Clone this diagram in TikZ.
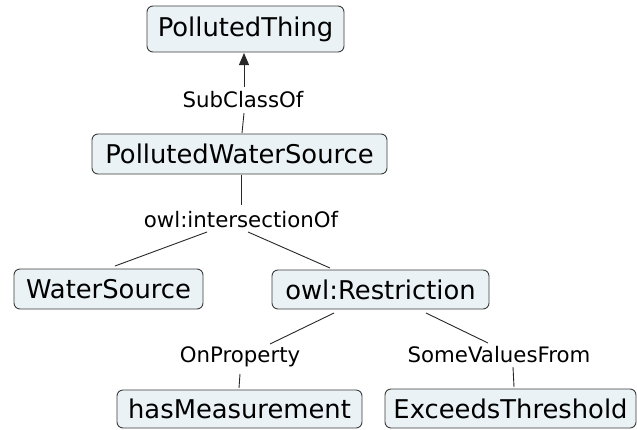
\documentclass[tikz,border=0pt]{standalone}
\usepackage{fontspec}
\setmainfont{DejaVu Sans}
\usetikzlibrary{arrows.meta}
\definecolor{boxfill}{RGB}{234,242,245}
\definecolor{boxline}{RGB}{60,60,60}
\definecolor{linkline}{RGB}{40,40,40}
\tikzset{
  concept/.style={draw=boxline, fill=boxfill, rounded corners=6pt, line width=0.9pt,
    inner sep=0pt, align=center, text=black,
    font=\fontsize{25.8}{30}\selectfont},
  linklabel/.style={inner sep=0pt, text=black, font=\fontsize{21.3}{25}\selectfont},
  link/.style={draw=linkline, line width=0.9pt},
  arrowlink/.style={link, -{Triangle[width=10pt,length=12pt]}}
}
\begin{document}
\begin{tikzpicture}[x=1pt,y=-1pt]
  \fill[white] (0,0) rectangle (637,429);
  \useasboundingbox (0,0) rectangle (637,429);

  % concepts
  \node[concept, minimum width=197pt, minimum height=46pt] (pt)  at (245.5,29)  {PollutedThing};
  \node[concept, minimum width=295pt, minimum height=40pt] (pws) at (239.5,154) {PollutedWaterSource};
  \node[concept, minimum width=189pt, minimum height=40pt] (ws)  at (108.5,289) {WaterSource};
  \node[concept, minimum width=217pt, minimum height=39pt] (rs)  at (380.5,289.5) {owl:Restriction};
  \node[concept, minimum width=245pt, minimum height=38pt] (hm)  at (239.5,409) {hasMeasurement};
  \node[concept, minimum width=251pt, minimum height=39pt] (et)  at (510.5,408.5) {ExceedsThreshold};

  % linking phrases
  \node[linklabel] (sub) at (243,100)   {SubClassOf};
  \node[linklabel] (ix)  at (241,219.5) {owl:intersectionOf};
  \node[linklabel] (op)  at (240,357)   {OnProperty};
  \node[linklabel] (sv)  at (499,355)   {SomeValuesFrom};

  % connectors
  \draw[arrowlink] ([shift={(1,-13)}]sub.center) -- ([shift={(-1.5,24)}]pt.center);
  \draw[link] ([shift={(2.5,-21)}]pws.center) -- ([shift={(1,13)}]sub.center);
  \draw[link] ([shift={(1.5,20.5)}]pws.center) -- ([shift={(0,-14.5)}]ix.center);
  \draw[link] ([shift={(-34,12.5)}]ix.center) -- ([shift={(6.5,-23)}]ws.center);
  \draw[link] ([shift={(7,12.5)}]ix.center) -- ([shift={(-50.5,-21.5)}]rs.center);
  \draw[link] ([shift={(-46.5,23.5)}]rs.center) -- ([shift={(30,-13)}]op.center);
  \draw[link] ([shift={(45.5,23.5)}]rs.center) -- ([shift={(-11,-12)}]sv.center);
  \draw[link] ([shift={(0,17)}]op.center) -- ([shift={(-0.5,-21)}]hm.center);
  \draw[link] ([shift={(14,12)}]sv.center) -- ([shift={(3.5,-21.5)}]et.center);
\end{tikzpicture}
\end{document}
